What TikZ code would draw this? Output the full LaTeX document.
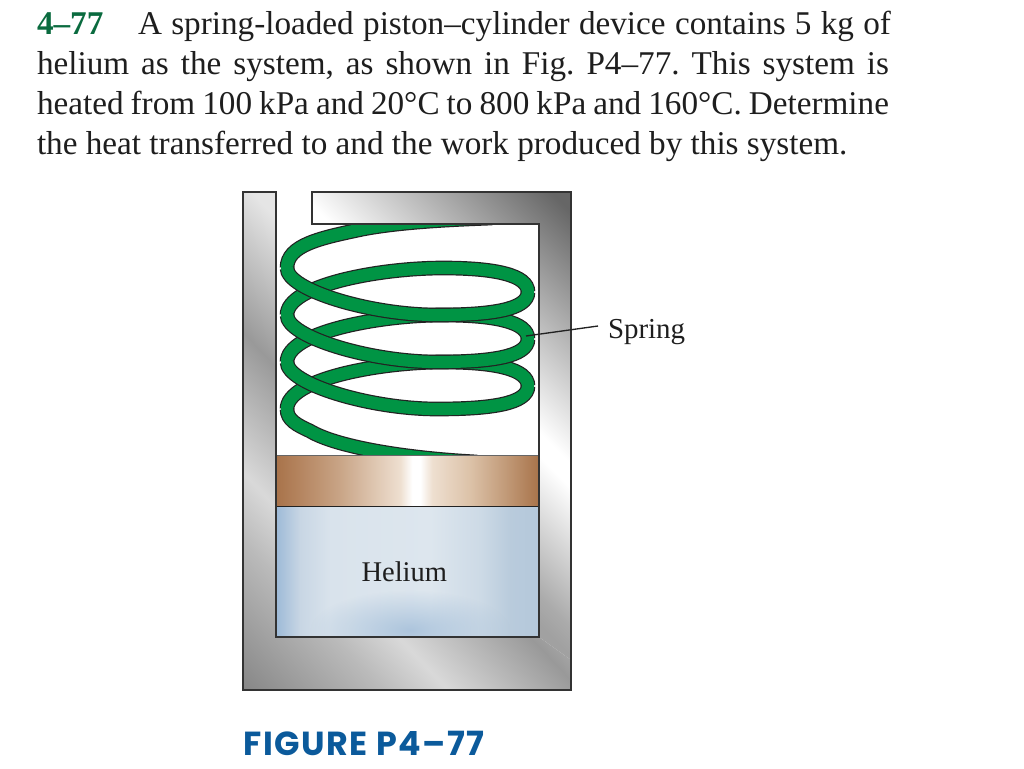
\documentclass[tikz,border=0pt]{standalone}
\usepackage{fontspec}
\setmainfont{Liberation Serif}
\newfontfamily\figfont[LetterSpace=4.5]{Poppins}
\usetikzlibrary{fadings}
\tikzfading[name=blobfade,inner color=transparent!0,outer color=transparent!100]
\definecolor{numgreen}{HTML}{0A6B3F}
\definecolor{figblue}{HTML}{0B5A9B}
\definecolor{springgreen}{HTML}{009444}
\definecolor{inkline}{HTML}{222222}
\definecolor{wallline}{HTML}{333333}
\definecolor{textink}{HTML}{1E1E1E}
\pgfdeclareverticalshading{wallB}{100bp}{color(0bp)=(black!10); color(45.5bp)=(black!10); color(52.9bp)=(black!40); color(59.8bp)=(black!15); color(63.2bp)=(black!27); color(70.4bp)=(black!47); color(100bp)=(black!47)}
\pgfdeclareverticalshading{wallA}{100bp}{color(0bp)=(black!60); color(33.8bp)=(black!60); color(46.6bp)=(white); color(47.8bp)=(white); color(54.9bp)=(black!33); color(56.4bp)=(black!37); color(100bp)=(black!37)}
\definecolor{cu1}{HTML}{A8734A}\definecolor{cu2}{HTML}{B58560}\definecolor{cu3}{HTML}{C9A587}
\definecolor{cu4}{HTML}{EEDFD0}\definecolor{cu5}{HTML}{DCC2A8}\definecolor{cu6}{HTML}{BE9572}
\pgfdeclarehorizontalshading{pistonshade}{100bp}{color(0bp)=(cu1); color(25bp)=(cu1); color(29.6bp)=(cu2); color(37.2bp)=(cu3); color(48.6bp)=(cu4); color(50.9bp)=(white); color(52.4bp)=(white); color(54.7bp)=(cu4); color(61.9bp)=(cu5); color(69.5bp)=(cu6); color(75bp)=(cu1); color(100bp)=(cu1)}
\definecolor{he1}{HTML}{9DBAD7}\definecolor{he2}{HTML}{C8D6E4}\definecolor{he3}{HTML}{D9E3EC}
\definecolor{he4}{HTML}{DDE6EE}\definecolor{he5}{HTML}{CDDAE6}\definecolor{he6}{HTML}{B9CBDC}\definecolor{he7}{HTML}{B4C8DB}
\pgfdeclarehorizontalshading{heliumshade}{100bp}{color(0bp)=(he1); color(25bp)=(he1); color(29.6bp)=(he2); color(35.3bp)=(he3); color(54.3bp)=(he4); color(63.8bp)=(he5); color(69.5bp)=(he6); color(75bp)=(he7); color(100bp)=(he7)}
\tikzset{
  textline/.style={anchor=base west,inner sep=0pt,outer sep=0pt,text=textink,font=\fontsize{24.9pt}{28pt}\selectfont\frenchspacing},
  figtext/.style={anchor=base west,inner sep=0pt,outer sep=0pt,text=textink,font=\fontsize{21.4pt}{26pt}\selectfont},
  tube/.style={draw=inkline,line width=0.9pt,double=springgreen,double distance=9.2pt,line cap=butt},
  tubepatch/.style={draw=springgreen,line width=9.2pt,line cap=butt},
  wallpath/.style={draw=wallline,line width=1.1pt,line join=miter},
}
\begin{document}
\begin{tikzpicture}[x=0.75pt,y=-0.75pt]
\useasboundingbox (0,0) rectangle (1024,768);
\fill[white] (0,0) rectangle (1024,768);
% text
\node[textline] (l1a) at (37,34) {\textbf{\textcolor{numgreen}{4–77}}};
\node[textline] (l1b) at (138,34) {\makebox[564.75pt][s]{A spring-loaded piston–cylinder device contains 5 kg of}};
\node[textline] (l2) at (37,74) {\makebox[639pt][s]{helium as the system, as shown in Fig. P4–77. This system is}};
\node[textline] (l3) at (37,114) {\makebox[639pt][s]{heated from 100 kPa and 20°C to 800 kPa and 160°C. Determine}};
\node[textline] (l4) at (37,154) {the heat transferred to and the work produced by this system.};
% cylinder fills
\begin{scope}
 \clip (243,192) -- (276,192) -- (276,637) -- (539,637) -- (571,660) -- (571,690) -- (243,690) -- cycle;
 \shade[shading=wallB,shading angle=133.3] (50,90) rectangle (750,790);
\end{scope}
\begin{scope}
 \clip (312,192) -- (571,192) -- (571,660) -- (539,637) -- (539,224) -- (312,224) -- cycle;
 \shade[shading=wallA,shading angle=135] (90,50) rectangle (790,750);
\end{scope}
% spring
\begin{scope}
 \clip (276,224) rectangle (539,455);
 \foreach \dy in {0,47,94}{
  \draw[tube] (528,292+\dy) .. controls (528,275+\dy) and (495,268+\dy) .. (443,268+\dy)
     .. controls (380,268+\dy) and (287,285+\dy) .. (287,315+\dy);
 }
 \draw[tube] (287,268) .. controls (287,245) and (320,238) .. (363,229)
     .. controls (400,222) and (450,219.5) .. (492,218);
 \foreach \dy in {94,47,0}{
  \draw[tube] (287,268+\dy) .. controls (287,290+\dy) and (370,315+\dy) .. (437,315+\dy)
     .. controls (490,315+\dy) and (528,310+\dy) .. (528,292+\dy);
  \draw[tubepatch] (287,267+\dy) -- (287,269+\dy);
  \draw[tubepatch] (528,291+\dy) -- (528,293+\dy);
 }
 \draw[tube] (287,409) .. controls (287,420) and (297,425) .. (310,431)
     .. controls (335,446) and (400,458) .. (477,462);
 \draw[tubepatch] (287,408) -- (287,410);
\end{scope}
% piston
\shade[shading=pistonshade] (276,455) rectangle (539,507);
\draw[black!60,line width=0.7pt] (276,455) -- (539,455);
\draw[inkline,line width=1.4pt] (276,507) -- (539,507);
% helium
\begin{scope}
 \clip (276,507) rectangle (539,637);
 \shade[shading=heliumshade] (276,507) rectangle (539,637);
 \fill[he1,opacity=.75,path fading=blobfade] (310,590) rectangle (510,670);
\end{scope}
\draw[inkline,line width=1.5pt] (276,455) -- (276,637) -- (539,637) -- (539,455);
\draw[wallpath] (243,192) -- (276,192) -- (276,637) -- (539,637) -- (539,224) -- (312,224) -- (312,192) -- (571,192) -- (571,690) -- (243,690) -- cycle;
% labels
\node[figtext] (helium) at (361.5,581) {Helium};
\node[figtext,font=\fontsize{21.7pt}{26pt}\selectfont] (springlabel) at (608,338) {Spring};
\coordinate (springpoint) at (526,336);
\coordinate (leaderend) at (598,326);
\draw[inkline,line width=1pt] (springpoint) -- (leaderend);
\node[anchor=base west,inner sep=0pt,text=figblue,font=\figfont\bfseries\fontsize{25pt}{28pt}\selectfont] (figlabel) at (243,755) {FIGURE P4–77};
\end{tikzpicture}
\end{document}
